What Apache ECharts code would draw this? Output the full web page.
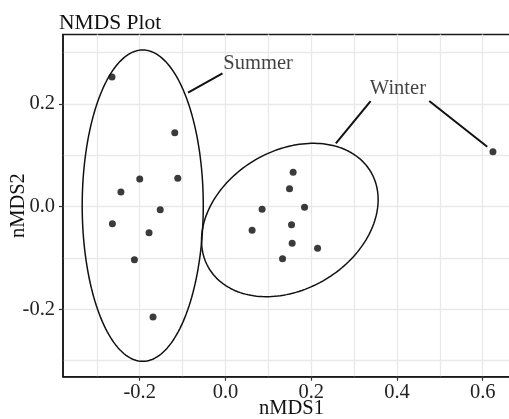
<!DOCTYPE html>
<html><head><meta charset="utf-8">
<script src="https://cdn.jsdelivr.net/npm/echarts@6/dist/echarts.min.js"></script>
<style>html,body{margin:0;padding:0;background:#fff}#c{width:509px;height:419px}</style>
</head><body><div id="c"></div>
<script>
// ---- data ----
const summerX = [-0.2647, -0.1183, -0.2000, -0.1113, -0.2439, -0.1522, -0.2638, -0.1783, -0.2124, -0.1690];
const summerY = [ 0.2526,  0.1441,  0.0539,  0.0552,  0.0285, -0.0059, -0.0332, -0.0508, -0.1034, -0.2150];
const winterX = [0.0621, 0.1578, 0.1494, 0.0854, 0.1844, 0.1541, 0.1555, 0.2148, 0.1331, 0.6239];
const winterY = [-0.0461, 0.0669, 0.0350, -0.0052, -0.0013, -0.0352, -0.0714, -0.0811, -0.1014, 0.1071];
const xTicks = [-0.2, 0.0, 0.2, 0.4, 0.6];
const yTicks = [-0.2, 0.0, 0.2];
const xMinorGrid = [-0.3, -0.1, 0.1, 0.3, 0.5];
const yMinorGrid = [-0.3, -0.1, 0.1, 0.3];
const groupNames = ['Summer', 'Winter'];
const groupLabelX = [0.0761, 0.4022];
const groupLabelY = [0.2779, 0.2298];
// leader segments: [x1, y1, x2, y2]
const leaderSegments = [
  [-0.0873, 0.2220, -0.0070, 0.2598],
  [0.3385, 0.2058, 0.2575, 0.1234],
  [0.4753, 0.2058, 0.6106, 0.1168]
];
// ellipses: centre and two semi-axis vectors (data units)
const summerEllipse = {cx: -0.1930, cy: 0.0019, u: [0.1412, 0.0], v: [0.0, 0.3033]};
const winterEllipse = {cx: 0.1501, cy: -0.0260, u: [0.1884, 0.0945], v: [-0.0833, 0.1157]};
const xRange = [-0.379, 0.687];
const yRange = [-0.3313, 0.3354];

// ---- build ----
function ellipsePts(e) {
  const pts = [];
  const n = 180;
  for (let i = 0; i <= n; i++) {
    const t = 2 * Math.PI * i / n;
    pts.push([e.cx + e.u[0] * Math.cos(t) + e.v[0] * Math.sin(t),
              e.cy + e.u[1] * Math.cos(t) + e.v[1] * Math.sin(t)]);
  }
  return pts;
}
const zip = (xs, ys) => xs.map((x, i) => [x, ys[i]]);
const FONT = 'Liberation Serif';
const gridColor = '#e9e9e9';
const fmt = v => (Math.abs(v) < 1e-9 ? 0 : v).toFixed(1);

const series = [];
[summerEllipse, winterEllipse].forEach(e => series.push({
  type: 'line', data: ellipsePts(e), showSymbol: false, silent: true,
  lineStyle: {color: '#111', width: 1.5}, z: 3
}));
leaderSegments.forEach(s => series.push({
  type: 'line', data: [[s[0], s[1]], [s[2], s[3]]], showSymbol: false, silent: true,
  lineStyle: {color: '#111', width: 2}, z: 3
}));
series.push({type: 'scatter', data: zip(summerX, summerY), symbolSize: 7,
  itemStyle: {color: '#0a0a0a'}, z: 4});
series.push({type: 'scatter', data: zip(winterX, winterY), symbolSize: 7,
  itemStyle: {color: '#0a0a0a'}, z: 4});
series.push({type: 'scatter', symbolSize: 0, silent: true, z: 5,
  data: groupNames.map((n, i) => ({name: n, value: [groupLabelX[i], groupLabelY[i]]})),
  label: {show: true, position: 'inside', formatter: p => p.name,
    fontFamily: FONT, fontSize: 20.5, color: '#111'}});

const chart = echarts.init(document.getElementById('c'));
chart.setOption({
  animation: false,
  title: {text: 'NMDS Plot', left: 54, top: 7,
    textStyle: {fontFamily: FONT, fontSize: 21.5, fontWeight: 'normal', color: '#111'}},
  grid: {left: 63, top: 34.5, right: -11, bottom: 42.3, show: true,
    containLabel: false, outerBoundsMode: 'none',
    borderColor: '#1a1a1a', borderWidth: 1.6, backgroundColor: '#fff'},
  xAxis: [
    {type: 'value', min: xRange[0], max: xRange[1], position: 'bottom',
     name: 'nMDS1', nameLocation: 'middle', nameGap: 21, nameMoveOverlap: false,
     nameTextStyle: {fontFamily: FONT, fontSize: 20.5, color: '#111'},
     axisLine: {show: true, onZero: false, lineStyle: {color: '#1a1a1a', width: 1.6}},
     axisTick: {show: true, customValues: xTicks, length: 4, lineStyle: {color: '#333', width: 1.2}},
     axisLabel: {customValues: xTicks, formatter: fmt, margin: 5,
       fontFamily: FONT, fontSize: 20.5, color: '#222'},
     splitLine: {show: true, lineStyle: {color: gridColor, width: 1.3}}},
    {type: 'value', min: xRange[0], max: xRange[1], position: 'bottom',
     axisLine: {show: false}, axisTick: {show: false, customValues: xMinorGrid},
     axisLabel: {show: false, customValues: xMinorGrid},
     splitLine: {show: true, lineStyle: {color: gridColor, width: 1.3}}}
  ],
  yAxis: [
    {type: 'value', min: yRange[0], max: yRange[1], position: 'left',
     name: 'nMDS2', nameLocation: 'middle', nameGap: 34, nameRotate: 90, nameMoveOverlap: false,
     nameTextStyle: {fontFamily: FONT, fontSize: 20.5, color: '#111'},
     axisLine: {show: true, onZero: false, lineStyle: {color: '#1a1a1a', width: 1.6}},
     axisTick: {show: true, customValues: yTicks, length: 4, lineStyle: {color: '#333', width: 1.2}},
     axisLabel: {customValues: yTicks, formatter: fmt, margin: 8,
       fontFamily: FONT, fontSize: 20.5, color: '#222'},
     splitLine: {show: true, lineStyle: {color: gridColor, width: 1.3}}},
    {type: 'value', min: yRange[0], max: yRange[1], position: 'left',
     axisLine: {show: false}, axisTick: {show: false, customValues: yMinorGrid},
     axisLabel: {show: false, customValues: yMinorGrid},
     splitLine: {show: true, lineStyle: {color: gridColor, width: 1.3}}}
  ],
  series: series
});
</script></body></html>
